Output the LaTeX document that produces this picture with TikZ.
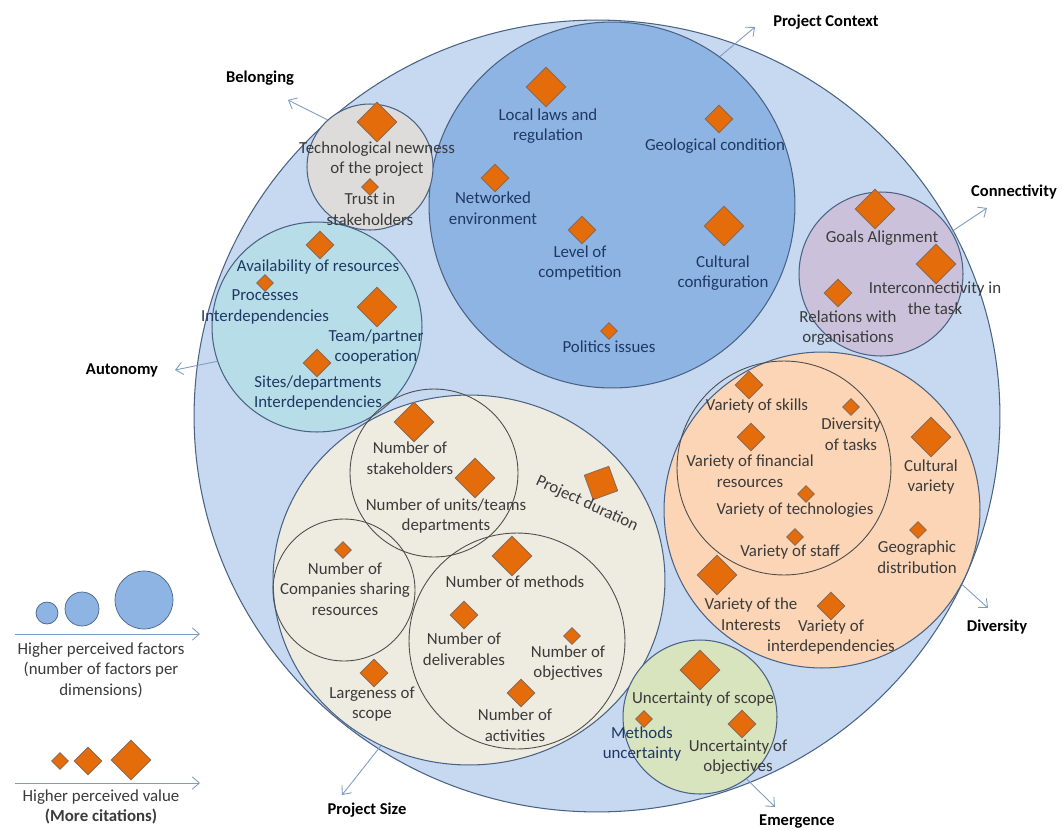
\documentclass[tikz,border=0pt]{standalone}
\usepackage{fontspec}
\setmainfont{Carlito}
\usetikzlibrary{shapes.geometric,arrows.meta}

\definecolor{outerblue}{HTML}{C6D9F1}
\definecolor{ctxblue}{HTML}{8DB4E2}
\definecolor{belgray}{HTML}{DEDCDA}
\definecolor{autcyan}{HTML}{B7DEE8}
\definecolor{conlav}{HTML}{CCC1DA}
\definecolor{divpeach}{HTML}{FBD5B5}
\definecolor{sizebeige}{HTML}{EEECE1}
\definecolor{emegreen}{HTML}{D7E4BD}
\definecolor{rimblue}{HTML}{4A6385}
\definecolor{rimgray}{HTML}{4D4D4D}
\definecolor{dorange}{HTML}{E46C0A}
\definecolor{dedge}{HTML}{8C6A55}
\definecolor{navytxt}{HTML}{1F3864}
\definecolor{graytxt}{HTML}{3B3B3B}
\definecolor{arrowblue}{HTML}{7F9CC0}

\tikzset{
  zone/.style={circle,draw=rimblue,line width=0.6pt,inner sep=0pt},
  subzone/.style={circle,draw=rimgray,line width=0.5pt,inner sep=0pt},
  dsmall/.style={diamond,fill=dorange,draw=dedge,line width=0.5pt,inner sep=0pt,minimum size=0.34cm},
  dmed/.style={diamond,fill=dorange,draw=dedge,line width=0.5pt,inner sep=0pt,minimum size=0.56cm},
  dbig/.style={diamond,fill=dorange,draw=dedge,line width=0.5pt,inner sep=0pt,minimum size=0.8cm},
  lbl/.style={font=\fontsize{9.6}{11.7}\selectfont,align=center,text=graytxt,inner sep=0pt},
  ctxlbl/.style={lbl,text=navytxt},
  dim/.style={font=\bfseries\fontsize{9.4}{11}\selectfont,text=black,inner sep=0pt},
  dimarrow/.style={draw=arrowblue,line width=0.5pt,-{Straight Barb[length=4pt,width=7pt]}}
}

\begin{document}
\begin{tikzpicture}[x=0.02cm,y=-0.02cm]
\useasboundingbox (0,0) rectangle (1062,829);
\fill[white] (0,0) rectangle (1062,829);

\node[ellipse,draw=rimblue,line width=0.6pt,fill=outerblue,inner sep=0pt,minimum width=16.12cm,minimum height=15.84cm] (outer) at (597,416) {};

\node[zone,fill=ctxblue,minimum size=7.32cm] (context) at (612,205) {};
\node[zone,fill=belgray,minimum size=2.52cm] (belong) at (370,167) {};
\node[zone,fill=autcyan,minimum size=4.2cm] (auton) at (317,327) {};
\node[zone,fill=conlav,minimum size=3.28cm] (connect) at (881,274) {};
\node[zone,fill=divpeach,minimum size=6.32cm] (divers) at (822,510) {};
\node[subzone,minimum size=4.28cm] (diversin) at (784,468) {};
\node[ellipse,draw=rimblue,line width=0.6pt,fill=sizebeige,inner sep=0pt,minimum width=7.84cm,minimum height=7.4cm] (psize) at (469,580) {};
\node[subzone,minimum size=3.36cm] (stakec) at (434,473) {};
\node[subzone,minimum size=2.84cm] (compc) at (344,590) {};
\node[subzone,minimum size=4.32cm] (methc) at (517,641) {};
\node[zone,fill=emegreen,minimum size=3.08cm] (emerg) at (700,717) {};

\node[dbig] (laws) at (546,87) {};
\node[ctxlbl] (lawst) at (548,126) {Local laws and\\regulation};
\node[dmed] (geo) at (719,119) {};
\node[ctxlbl] (geot) at (715,146) {Geological condition};
\node[dmed] (netw) at (495,178) {};
\node[ctxlbl] (netwt) at (493,208) {Networked\\environment};
\node[dmed] (compet) at (582,230) {};
\node[ctxlbl] (compett) at (580,263) {Level of\\competition};
\node[dbig] (cultc) at (724,226) {};
\node[ctxlbl] (cultct) at (723,273) {Cultural\\configuration};
\node[dsmall] (polit) at (609,331) {};
\node[ctxlbl] (politt) at (609,347) {Politics issues};

\node[dbig] (technew) at (377,122) {};
\node[lbl] (technewt) at (377,159) {Technological newness\\of the project};
\node[dsmall] (trust) at (370,187) {};
\node[lbl] (trustt) at (370,209) {Trust in\\stakeholders};

\node[dmed] (avail) at (320,245) {};
\node[ctxlbl] (availt) at (318,267) {Availability of resources};
\node[dsmall] (proc) at (265,283) {};
\node[ctxlbl] (proct) at (265,307) {Processes\\Interdependencies};
\node[dbig] (team) at (377,307) {};
\node[ctxlbl] (teamt) at (376,347) {Team/partner\\cooperation};
\node[dmed] (sites) at (317,363) {};
\node[ctxlbl] (sitest) at (318,393) {Sites/departments\\Interdependencies};

\node[dbig] (goals) at (875,209) {};
\node[lbl] (goalst) at (882,238) {Goals Alignment};
\node[dbig] (intercon) at (936,264) {};
\node[lbl] (intercont) at (935,298) {Interconnectivity in\\the task};
\node[dmed] (relat) at (838,293) {};
\node[lbl] (relatt) at (848,328) {Relations with\\organisations};

\node[dmed] (skills) at (749,385) {};
\node[lbl] (skillst) at (757,406) {Variety of skills};
\node[dsmall] (tasks) at (851,407) {};
\node[lbl] (taskst) at (851,434) {Diversity\\of tasks};
\node[dmed] (finan) at (751,437) {};
\node[lbl] (finant) at (750,471) {Variety of financial\\resources};
\node[dsmall] (techn) at (806,494) {};
\node[lbl] (techt) at (795,510) {Variety of technologies};
\node[dsmall] (staff) at (795,537) {};
\node[lbl] (stafft) at (790,552) {Variety of staff};
\node[dbig] (cultv) at (931,437) {};
\node[lbl] (cultvt) at (931,477) {Cultural\\variety};
\node[dsmall] (geogr) at (918,530) {};
\node[lbl] (geogrt) at (917,557) {Geographic\\distribution};
\node[dbig] (intrst) at (717,575) {};
\node[lbl] (intrstt) at (751,614) {Variety of the\\Interests};
\node[dmed] (interd) at (831,606) {};
\node[lbl] (interdt) at (831,637) {Variety of\\interdependencies};

\node[dbig] (stake) at (414,422) {};
\node[lbl] (staket) at (410,458) {Number of\\stakeholders};
\node[dbig] (units) at (475,478) {};
\node[lbl] (unitst) at (446,516) {Number of units/teams\\departments};
\node[rectangle,fill=dorange,draw=dedge,line width=0.5pt,inner sep=0pt,minimum size=0.52cm,rotate=20] (durat) at (601,483) {};
\node[lbl,rotate=-25] (duratt) at (587,504) {Project duration};
\node[dsmall] (comp) at (343,550) {};
\node[lbl] (compt) at (345,589) {Number of\\Companies sharing\\resources};
\node[dbig] (meth) at (512,556) {};
\node[lbl] (metht) at (515,582) {Number of methods};
\node[dmed] (deliv) at (464,615) {};
\node[lbl] (delivt) at (464,649) {Number of\\deliverables};
\node[dsmall] (objec) at (572,636) {};
\node[lbl] (object) at (568,663) {Number of\\objectives};
\node[dmed] (activ) at (521,693) {};
\node[lbl] (activt) at (515,725) {Number of\\activities};
\node[dmed] (large) at (374,673) {};
\node[lbl] (larget) at (372,704) {Largeness of\\scope};

\node[dbig] (uscope) at (700,670) {};
\node[lbl] (uscopet) at (703,699) {Uncertainty of scope};
\node[dsmall] (muncert) at (644,719) {};
\node[ctxlbl] (muncertt) at (642,744) {Methods\\uncertainty};
\node[dmed] (uobj) at (742,724) {};
\node[lbl] (uobjt) at (738,757) {Uncertainty of\\objectives};

\coordinate (belongtip) at (288,100);
\coordinate (contexttip) at (755,27);
\coordinate (connecttip) at (987,208);
\coordinate (autontip) at (175,370);
\coordinate (diverstip) at (988,608);
\coordinate (emergtip) at (775,807);
\coordinate (psizetip) at (342,795);
\draw[dimarrow] (belong.132) -- (belongtip);
\draw[dimarrow] (context.54) -- (contexttip);
\draw[dimarrow] (connect.31) -- (connecttip);
\draw[dimarrow] (auton.199) -- (autontip);
\draw[dimarrow] (divers.-28) -- (diverstip);
\draw[dimarrow] (emerg.-53) -- (emergtip);
\draw[dimarrow] (psize.242) -- (psizetip);

\node[dim] (belongl) at (260,78) {Belonging};
\node[dim] (contextl) at (826,22) {Project Context};
\node[dim] (connectl) at (1014,192) {Connectivity};
\node[dim] (autonl) at (122,370) {Autonomy};
\node[dim] (diversl) at (997,627) {Diversity};
\node[dim] (emergl) at (797,822) {Emergence};
\node[dim] (psizel) at (367,810) {Project Size};

\node[circle,draw=rimblue,fill=ctxblue,inner sep=0pt,minimum size=0.44cm] (lc1) at (47,613) {};
\node[circle,draw=rimblue,fill=ctxblue,inner sep=0pt,minimum size=0.68cm] (lc2) at (82,609) {};
\node[circle,draw=rimblue,fill=ctxblue,inner sep=0pt,minimum size=1.16cm] (lc3) at (144,600) {};
\coordinate (la1) at (15,634);
\coordinate (la2) at (200,634);
\draw[dimarrow] (la1) -- (la2);
\node[lbl] (lfact) at (101,670) {Higher perceived factors\\(number of factors per\\dimensions)};

\node[dsmall] (ld1) at (60,761) {};
\node[dmed] (ld2) at (88,761) {};
\node[dbig] (ld3) at (131,760) {};
\coordinate (lb1) at (15,783);
\coordinate (lb2) at (200,783);
\draw[dimarrow] (lb1) -- (lb2);
\node[lbl] (lvalue) at (101,807) {Higher perceived value\\\textbf{(More citations)}};

\end{tikzpicture}
\end{document}
